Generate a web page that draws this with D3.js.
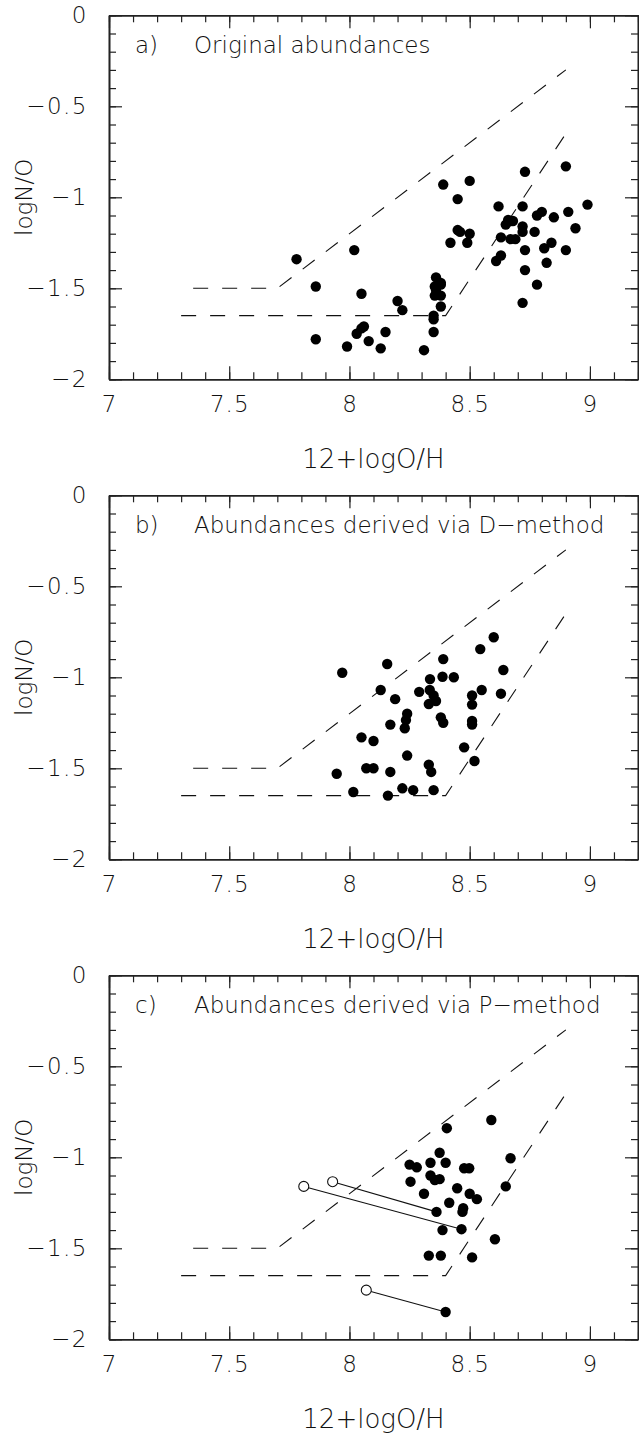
<!DOCTYPE html>
<html>
<head>
<meta charset="utf-8">
<script src="https://cdn.jsdelivr.net/npm/d3@7"></script>
<style>
  body { margin: 0; background: #fff; }
  svg text { font-family: "DejaVu Sans", sans-serif; font-weight: 200; fill: #111; }
</style>
</head>
<body>
<svg width="639" height="1433"></svg>
<script>
const width = 639;
const left = 109;
const plotW = 529;
const plotH = 364;
const panelTops = [15.3, 495.3, 975.3];

const panelLetters = ["a)", "b)", "c)"];
const panelTitles = ["Original abundances", "Abundances derived via D\u2212method", "Abundances derived via P\u2212method"];

const xMajor = [7, 7.5, 8, 8.5, 9];
const yMajor = [0, -0.5, -1, -1.5, -2];

// dashed boundaries, same in every panel
const upperBound = [[7.35, -1.5], [7.7, -1.5], [8.9, -0.3]];
const lowerBound = [[7.3, -1.65], [8.4, -1.65], [8.9, -0.65]];

// 12+logO/H , logN/O
const pointsA = [
  [7.78, -1.34], [7.86, -1.49], [7.86, -1.78], [7.99, -1.82], [8.02, -1.29], [8.03, -1.75],
  [8.05, -1.72], [8.06, -1.71], [8.05, -1.53], [8.08, -1.79], [8.13, -1.83], [8.15, -1.74],
  [8.20, -1.57], [8.22, -1.62], [8.31, -1.84], [8.35, -1.74], [8.35, -1.65], [8.35, -1.67],
  [8.36, -1.44], [8.38, -1.47], [8.38, -1.48], [8.355, -1.49], [8.36, -1.51], [8.355, -1.54],
  [8.38, -1.54], [8.38, -1.60], [8.39, -0.93], [8.45, -1.01], [8.50, -0.91], [8.45, -1.18],
  [8.46, -1.19], [8.50, -1.20], [8.49, -1.25], [8.42, -1.25], [8.73, -0.86], [8.90, -0.83],
  [8.62, -1.05], [8.72, -1.05], [8.99, -1.04], [8.66, -1.125], [8.67, -1.13], [8.68, -1.13],
  [8.65, -1.15], [8.72, -1.16], [8.72, -1.19], [8.77, -1.19], [8.78, -1.10], [8.80, -1.08],
  [8.85, -1.11], [8.91, -1.08], [8.94, -1.17], [8.63, -1.22], [8.67, -1.23], [8.69, -1.23],
  [8.73, -1.29], [8.81, -1.28], [8.84, -1.25], [8.90, -1.29], [8.63, -1.32], [8.61, -1.35],
  [8.73, -1.40], [8.82, -1.36], [8.78, -1.48], [8.72, -1.58]
];

const pointsB = [
  [8.60, -0.78], [8.544, -0.845], [8.39, -0.90], [8.157, -0.927], [7.97, -0.975], [8.64, -0.96],
  [8.335, -1.01], [8.387, -0.997], [8.434, -1.00], [8.13, -1.07], [8.29, -1.08], [8.334, -1.07],
  [8.35, -1.10], [8.55, -1.07], [8.51, -1.10], [8.63, -1.09], [8.19, -1.12], [8.33, -1.147],
  [8.36, -1.13], [8.51, -1.15], [8.24, -1.20], [8.38, -1.22], [8.39, -1.25], [8.51, -1.24],
  [8.51, -1.26], [8.17, -1.26], [8.235, -1.235], [8.23, -1.28], [8.05, -1.33], [8.10, -1.35],
  [8.477, -1.385], [8.24, -1.43], [8.52, -1.46], [8.07, -1.50], [8.10, -1.50], [7.947, -1.53],
  [8.17, -1.52], [8.33, -1.48], [8.34, -1.52], [8.016, -1.63], [8.16, -1.65], [8.22, -1.61],
  [8.265, -1.62], [8.35, -1.62]
];

const pointsC = [
  [8.59, -0.795], [8.405, -0.84], [8.375, -0.975], [8.67, -1.005], [8.25, -1.04], [8.28, -1.055],
  [8.337, -1.03], [8.40, -1.03], [8.477, -1.06], [8.498, -1.06], [8.337, -1.10], [8.355, -1.125],
  [8.375, -1.12], [8.254, -1.134], [8.65, -1.16], [8.448, -1.17], [8.31, -1.20], [8.50, -1.20],
  [8.53, -1.23], [8.415, -1.25], [8.473, -1.28], [8.47, -1.30], [8.362, -1.30], [8.387, -1.40],
  [8.466, -1.395], [8.605, -1.45], [8.33, -1.54], [8.38, -1.54], [8.51, -1.55], [8.40, -1.85]
];

// open circle -> filled dot in panel c
const shiftFrom = [[7.81, -1.16], [7.93, -1.134], [8.07, -1.73]];
const shiftTo = [[8.466, -1.395], [8.362, -1.30], [8.40, -1.85]];

const panelPoints = [pointsA, pointsB, pointsC];

const svg = d3.select("svg");

const x = d3.scaleLinear().domain([7, 9.2]).range([0, plotW]);
const y = d3.scaleLinear().domain([-2, 0]).range([plotH, 0]);

const xMinor = d3.range(70, 93).map(d => d / 10);
const yMinor = d3.range(-20, 1).map(d => d / 10);

const line = d3.line().x(d => x(d[0])).y(d => y(d[1]));

panelTops.forEach((top, i) => {
  const g = svg.append("g").attr("transform", `translate(${left},${top})`);

  // minor ticks on all four sides
  g.append("g").attr("transform", `translate(0,${plotH})`)
    .call(d3.axisBottom(x).tickValues(xMinor).tickSize(-7).tickSizeOuter(0).tickFormat(""));
  g.append("g")
    .call(d3.axisTop(x).tickValues(xMinor).tickSize(-7).tickSizeOuter(0).tickFormat(""));
  g.append("g")
    .call(d3.axisLeft(y).tickValues(yMinor).tickSize(-7).tickSizeOuter(0).tickFormat(""));
  g.append("g").attr("transform", `translate(${plotW},0)`)
    .call(d3.axisRight(y).tickValues(yMinor).tickSize(-7).tickSizeOuter(0).tickFormat(""));

  // major ticks with labels
  g.append("g").attr("class", "xlab").attr("transform", `translate(0,${plotH})`)
    .call(d3.axisBottom(x).tickValues(xMajor).tickSize(-13).tickSizeOuter(0).tickPadding(16)
      .tickFormat(d => d3.format("")(d)));
  g.append("g")
    .call(d3.axisTop(x).tickValues(xMajor).tickSize(-13).tickSizeOuter(0).tickFormat(""));
  g.append("g").attr("class", "ylab")
    .call(d3.axisLeft(y).tickValues(yMajor).tickSize(-13).tickSizeOuter(0).tickPadding(21)
      .tickFormat(d => d === 0 ? "0" : "\u2212" + d3.format("")(-d)));
  g.append("g").attr("transform", `translate(${plotW},0)`)
    .call(d3.axisRight(y).tickValues(yMajor).tickSize(-13).tickSizeOuter(0).tickFormat(""));

  g.selectAll(".domain").attr("stroke", "#222").attr("stroke-width", 1.6);
  g.selectAll(".tick line").attr("stroke", "#222").attr("stroke-width", 1.2);
  g.selectAll(".xlab text").attr("font-size", 23).attr("letter-spacing", 1).attr("font-family", null);
  g.selectAll(".ylab text").attr("font-size", 23).attr("letter-spacing", 1.5).attr("font-family", null);

  // axis titles
  g.append("text")
    .attr("x", plotW / 2)
    .attr("y", plotH + 89)
    .attr("text-anchor", "middle")
    .attr("font-size", 26)
    .text("12+logO/H");

  g.append("text")
    .attr("transform", `translate(${32 - left},${plotH / 2}) rotate(-90)`)
    .attr("text-anchor", "middle")
    .attr("font-size", 23)
    .text("logN/O");

  // panel label
  g.append("text").attr("x", 26).attr("y", 38).attr("font-size", 23).text(panelLetters[i]);
  g.append("text").attr("x", 85).attr("y", 38).attr("font-size", 23).text(panelTitles[i]);

  // boundaries
  [upperBound, lowerBound].forEach(b => {
    g.append("path")
      .attr("d", line(b))
      .attr("fill", "none")
      .attr("stroke", "#111")
      .attr("stroke-width", 1.1)
      .attr("stroke-dasharray", "15,14");
  });

  if (i === 2) {
    shiftFrom.forEach((d, k) => {
      g.append("line")
        .attr("x1", x(d[0])).attr("y1", y(d[1]))
        .attr("x2", x(shiftTo[k][0])).attr("y2", y(shiftTo[k][1]))
        .attr("stroke", "#111").attr("stroke-width", 1.1);
    });
    g.selectAll(".open")
      .data(shiftFrom)
      .enter()
      .append("circle")
      .attr("class", "open")
      .attr("cx", d => x(d[0]))
      .attr("cy", d => y(d[1]))
      .attr("r", 5)
      .attr("fill", "#fff")
      .attr("stroke", "#111")
      .attr("stroke-width", 1.1);
  }

  g.selectAll(".dot")
    .data(panelPoints[i])
    .enter()
    .append("circle")
    .attr("class", "dot")
    .attr("cx", d => x(d[0]))
    .attr("cy", d => y(d[1]))
    .attr("r", 5.2)
    .attr("fill", "#000");
});
</script>
</body>
</html>
